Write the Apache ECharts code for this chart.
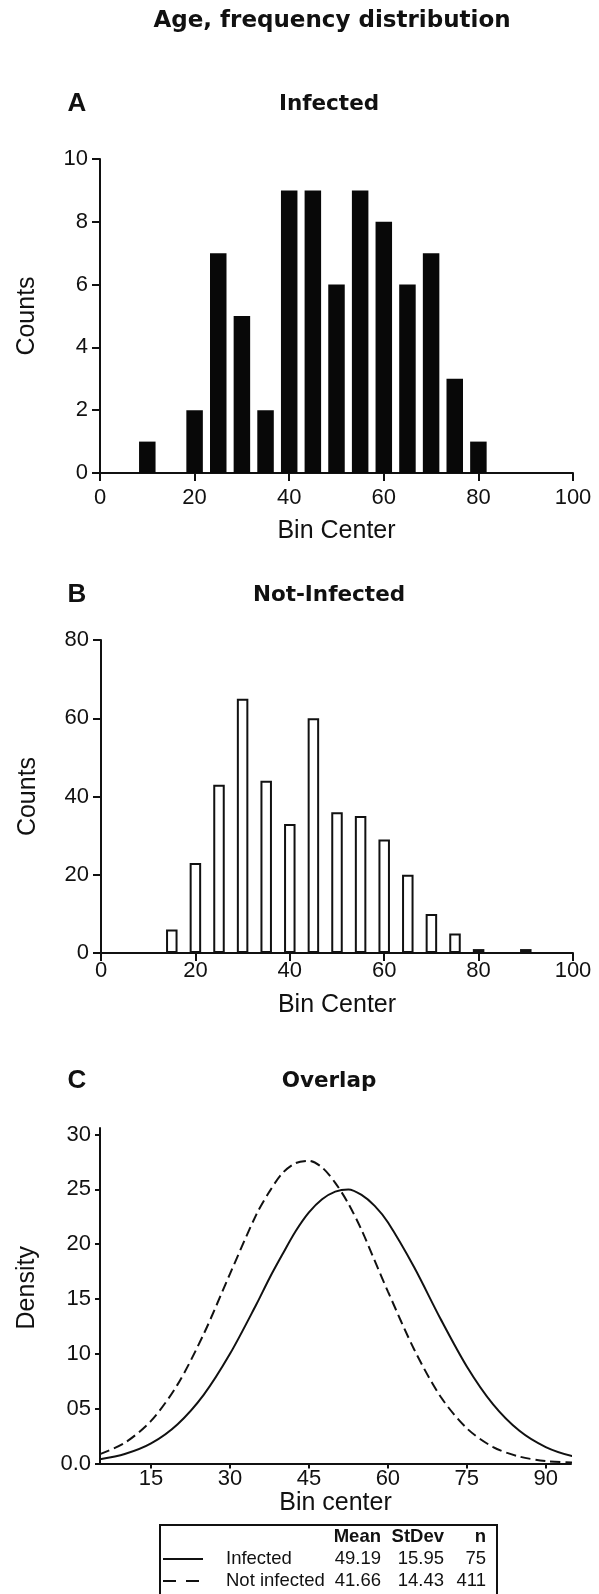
<!DOCTYPE html>
<html>
<head>
<meta charset="utf-8">
<script src="https://cdn.jsdelivr.net/npm/echarts@6/dist/echarts.min.js"></script>
<style>
html,body{margin:0;padding:0;background:#fff;}
#c{width:599px;height:1594px;}
</style>
</head>
<body>
<div id="c"></div>
<script>
// ---- data ----
const mainTitle = 'Age, frequency distribution';
const panelLetters = ['A', 'B', 'C'];
const panelTitles = ['Infected', 'Not-Infected', 'Overlap'];

const binsA = [10, 20, 25, 30, 35, 40, 45, 50, 55, 60, 65, 70, 75, 80];
const countsA = [1, 2, 7, 5, 2, 9, 9, 6, 9, 8, 6, 7, 3, 1];

const binsB = [15, 20, 25, 30, 35, 40, 45, 50, 55, 60, 65, 70, 75, 80, 90];
const countsB = [6, 23, 43, 65, 44, 33, 60, 36, 35, 29, 20, 10, 5, 1, 1];

const densityX = [5.3, 10, 15, 20, 25, 30, 35, 37.5, 40, 42.5, 45, 47.5, 50, 52.5, 55, 57.5, 60, 65, 70, 75, 80, 85, 90, 95, 100];
const densityInfected = [0.39, 0.86, 1.83, 3.56, 6.26, 10.0, 14.5, 16.9, 19.1, 21.2, 22.9, 24.1, 24.8, 25.0, 24.5, 23.5, 22.0, 17.9, 13.2, 8.85, 5.39, 2.98, 1.50, 0.68, 0.28];
const densityNotInfected = [0.86, 1.88, 3.89, 7.17, 11.8, 17.3, 22.7, 24.8, 26.5, 27.4, 27.6, 27.0, 25.6, 23.7, 21.3, 18.5, 15.7, 10.4, 6.11, 3.21, 1.50, 0.63, 0.23, 0.08, 0.02];

const densityXTicks = [15, 30, 45, 60, 75, 90];
const densityYTicks = [0, 5, 10, 15, 20, 25, 30];
const densityYLabels = ['0.0', '05', '10', '15', '20', '25', '30'];

const legendHeader = ['Mean', 'StDev', 'n'];
const legendNames = ['Infected', 'Not infected'];
const legendMeans = ['49.19', '41.66'];
const legendSDs = ['15.95', '14.43'];
const legendNs = ['75', '411'];

// ---- styles ----
const INK = '#111';
const SANS = '"Liberation Sans", Arial, sans-serif';
const TITLEF = '"DejaVu Sans", Verdana, sans-serif';
const tickFont = {fontFamily: SANS, fontSize: 22, color: INK};
const nameFont = {fontFamily: SANS, fontSize: 25, color: INK};
const LEGF = 18.5;

function histX(gridIndex, margin, nameGap) {
  return {
    gridIndex, type: 'value', min: 0, max: 100, interval: 20,
    name: 'Bin Center', nameLocation: 'middle', nameGap, nameTextStyle: nameFont,
    axisLine: {show: true, onZero: false, lineStyle: {color: INK, width: 2}},
    axisTick: {show: true, inside: false, length: 8, lineStyle: {color: INK, width: 2}},
    axisLabel: Object.assign({margin}, tickFont),
    splitLine: {show: false}
  };
}
function histY(gridIndex, max, interval) {
  return {
    gridIndex, type: 'value', min: 0, max, interval,
    name: 'Counts', nameLocation: 'middle', nameGap: 60, nameRotate: 90, nameTextStyle: nameFont,
    axisLine: {show: true, lineStyle: {color: INK, width: 2}},
    axisTick: {show: true, inside: false, length: 8, lineStyle: {color: INK, width: 2}},
    axisLabel: Object.assign({margin: 12}, tickFont),
    splitLine: {show: false}
  };
}

const chart = echarts.init(document.getElementById('c'), null, {renderer: 'canvas', width: 599, height: 1594});

// legend graphics
const legendTop = 1525;
const rowY = [1537, 1559, 1581];
const legendGraphics = [
  {type: 'rect', shape: {x: 160, y: legendTop, width: 337, height: 100},
   style: {fill: '#fff', stroke: INK, lineWidth: 2}, z: 10},
  {type: 'line', shape: {x1: 163, y1: rowY[1], x2: 203, y2: rowY[1]},
   style: {stroke: INK, lineWidth: 2}, z: 11},
  {type: 'line', shape: {x1: 163, y1: rowY[2], x2: 205, y2: rowY[2]},
   style: {stroke: INK, lineWidth: 2, lineDash: [13, 10]}, z: 11}
];
const colsRight = [381, 444, 486];
legendHeader.forEach((h, i) => {
  legendGraphics.push({type: 'text', x: colsRight[i], y: rowY[0], z: 11,
    style: {text: h, fontFamily: SANS, fontWeight: 'bold', fontSize: LEGF, fill: INK, align: 'right', verticalAlign: 'middle'}});
});
legendNames.forEach((nm, r) => {
  const y = rowY[r + 1];
  legendGraphics.push({type: 'text', x: 226, y, z: 11,
    style: {text: nm, fontFamily: SANS, fontSize: LEGF, fill: INK, align: 'left', verticalAlign: 'middle'}});
  [legendMeans[r], legendSDs[r], legendNs[r]].forEach((v, i) => {
    legendGraphics.push({type: 'text', x: colsRight[i], y, z: 11,
      style: {text: v, fontFamily: SANS, fontSize: LEGF, fill: INK, align: 'right', verticalAlign: 'middle'}});
  });
});

const titleGraphics = [
  {type: 'text', x: 332, y: 21, style: {text: mainTitle, fontFamily: TITLEF, fontWeight: 'bold', fontSize: 23, fill: INK, align: 'center', verticalAlign: 'middle'}}
];
const panelY = [104, 595, 1081];
const panelCX = [329, 329, 329];
panelLetters.forEach((L, i) => {
  titleGraphics.push({type: 'text', x: 77, y: panelY[i],
    style: {text: L, fontFamily: SANS, fontWeight: 'bold', fontSize: 26, fill: INK, align: 'center', verticalAlign: 'middle'}});
  titleGraphics.push({type: 'text', x: panelCX[i], y: panelY[i],
    style: {text: panelTitles[i], fontFamily: TITLEF, fontWeight: 'bold', fontSize: 21.5, fill: INK, align: 'center', verticalAlign: 'middle'}});
});

const option = {
  backgroundColor: '#fff',
  animation: false,
  grid: [
    {left: 100, top: 159, width: 473, height: 314},
    {left: 101, top: 640, width: 472, height: 313},
    {left: 100, top: 1128, width: 471, height: 335.5}
  ],
  xAxis: [
    histX(0, 14, 46),
    histX(1, 7, 40),
    {
      gridIndex: 2, type: 'value', min: 5.3, max: 94.8,
      name: 'Bin center', nameLocation: 'middle', nameGap: 22, nameTextStyle: nameFont,
      axisLine: {show: true, onZero: false, lineStyle: {color: INK, width: 2}},
      axisTick: {show: true, inside: false, length: 5, customValues: densityXTicks, lineStyle: {color: INK, width: 2}},
      axisLabel: Object.assign({margin: 4, customValues: densityXTicks}, tickFont),
      splitLine: {show: false}
    }
  ],
  yAxis: [
    histY(0, 10, 2),
    histY(1, 80, 20),
    {
      gridIndex: 2, type: 'value', min: 0, max: 30.6,
      name: 'Density', nameLocation: 'middle', nameGap: 60, nameRotate: 90,
      nameTextStyle: Object.assign({padding: [0, 0, 0, 16]}, nameFont),
      axisLine: {show: true, lineStyle: {color: INK, width: 2}},
      axisTick: {show: true, inside: false, length: 5, customValues: densityYTicks, lineStyle: {color: INK, width: 2}},
      axisLabel: Object.assign({margin: 9, customValues: densityYTicks,
        formatter: v => { const k = densityYTicks.indexOf(Math.round(v)); return k >= 0 ? densityYLabels[k] : ''; }}, tickFont),
      splitLine: {show: false}
    }
  ],
  series: [
    {
      type: 'bar', xAxisIndex: 0, yAxisIndex: 0, barWidth: 16.5,
      itemStyle: {color: '#080808'},
      data: binsA.map((b, i) => [b, countsA[i]])
    },
    {
      type: 'bar', xAxisIndex: 1, yAxisIndex: 1, barWidth: 11.5,
      itemStyle: {color: '#fff', borderColor: INK, borderWidth: 2},
      data: binsB.map((b, i) => [b, countsB[i]])
    },
    {
      type: 'line', name: 'Infected', xAxisIndex: 2, yAxisIndex: 2, clip: false,
      smooth: 0.3, symbol: 'none',
      lineStyle: {color: INK, width: 2, type: 'solid'},
      data: densityX.map((x, i) => [x, densityInfected[i]])
    },
    {
      type: 'line', name: 'Not infected', xAxisIndex: 2, yAxisIndex: 2, clip: false,
      smooth: 0.3, symbol: 'none',
      lineStyle: {color: INK, width: 2, type: [10, 5]},
      data: densityX.map((x, i) => [x, densityNotInfected[i]])
    }
  ],
  graphic: titleGraphics.concat(legendGraphics)
};
chart.setOption(option);
</script>
</body>
</html>
